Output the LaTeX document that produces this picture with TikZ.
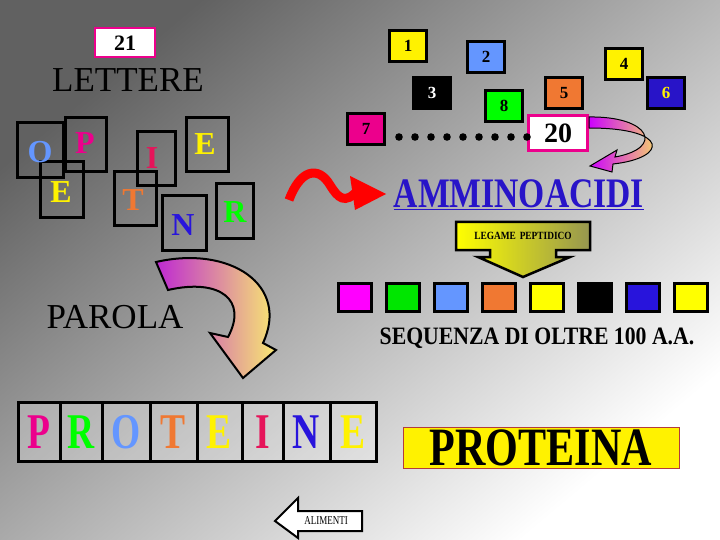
\documentclass[tikz,border=0pt]{standalone}
\usepackage{fontspec}
\setmainfont{Liberation Serif}
\newcommand{\nar}[2]{\scalebox{#1}[1]{#2}}
\begin{document}
\begin{tikzpicture}[x=1pt,y=-1pt,
  let/.style={font=\bfseries\fontsize{32}{32}\selectfont},
  nbox/.style={draw=black,line width=3pt,minimum width=37pt,minimum height=31pt,inner sep=0pt,font=\bfseries\fontsize{17}{17}\selectfont},
  sq/.style={draw=black,line width=3pt,minimum width=33pt,minimum height=28pt,inner sep=0pt},
  pbox/.style={draw=black,line width=3pt,minimum height=59pt,inner sep=0pt,font=\fontsize{50}{50}\selectfont\bfseries}]
\useasboundingbox (0,0) rectangle (720,540);
\shade[top color=black!62,bottom color=white,shading angle=40] (0,0) rectangle (720,540);
% letters
\draw[line width=3pt] (17,123) rectangle (63,178) (65,118) rectangle (106,172) (40,162) rectangle (83,218)
 (137,132) rectangle (175,186) (114,172) rectangle (156,226) (186,118) rectangle (228,172)
 (162,196) rectangle (206,250) (216,184) rectangle (253,238);
\node[let,text={rgb,255:red,100;green,150;blue,255}] (lo) at (40,152) {O};
\node[let,text=magenta] (lp) at (85,143) {P};
\node[let,text=yellow] (le) at (61,192) {E};
\node[let,text={rgb,255:red,230;green,20;blue,90}] (li) at (152,158) {I};
\node[let,text={rgb,255:red,240;green,120;blue,50}] (lt) at (133,200) {T};
\node[let,text=yellow] (le2) at (205,144) {E};
\node[let,text={rgb,255:red,40;green,20;blue,220}] (ln) at (183,225) {N};
\node[let,text=green] (lr) at (235,212) {R};
\node[draw=magenta,line width=2pt,fill=white,minimum width=60pt,minimum height=29pt,inner sep=0pt,font=\bfseries\fontsize{22}{22}\selectfont] (b21) at (125,43) {21};
\node[font=\fontsize{35}{35}\selectfont] (lettere) at (128,80) {LETTERE};
\node[font=\fontsize{35}{35}\selectfont] (parola) at (115,317) {PAROLA};
% numbers
\node[nbox,fill=yellow] (n1) at (408,46) {1};
\node[nbox,fill={rgb,255:red,100;green,150;blue,255}] (n2) at (486,57) {2};
\node[nbox,fill=black,text=white] (n3) at (432,93) {3};
\node[nbox,fill=green] (n8) at (504,106) {8};
\node[nbox,fill={rgb,255:red,240;green,120;blue,50}] (n5) at (564,93) {5};
\node[nbox,fill=yellow] (n4) at (624,64) {4};
\node[nbox,fill={rgb,255:red,40;green,20;blue,200},text=yellow] (n6) at (666,93) {6};
\node[nbox,fill=magenta] (n7) at (366,129) {7};
\node[draw=magenta,line width=2.5pt,fill=white,minimum width=59pt,minimum height=35pt,inner sep=0pt,font=\bfseries\fontsize{28}{28}\selectfont] (n20) at (558,133) {20};
\foreach \i in {0,...,8} \fill (399+\i*16,137) circle (3.8pt);
% small arrow from 20
\shade[left color=magenta!80!blue,right color=yellow!70,draw=black,line width=1pt]
 (589,117) .. controls (650,116) and (665,148) .. (615,157) -- (617,150) -- (590,166) -- (612,172) -- (613,164)
 .. controls (668,158) and (670,128) .. (589,128) -- cycle;
% red arrow
\draw[red,line width=9pt] (289,200) .. controls (300,170) and (318,165) .. (330,185) .. controls (338,198) and (345,205) .. (358,190);
\fill[red] (350,176) -- (386,194) -- (355,210) -- cycle;
\node[font=\bfseries\fontsize{42}{42}\selectfont,text={rgb,255:red,40;green,20;blue,200},inner sep=0pt] (aa) at (519,195) {\underline{\nar{0.8}{AMMINOACIDI}}};
% legame peptidico
\shade[left color=yellow,right color={rgb,255:red,150;green,150;blue,80},draw=black,line width=2.5pt]
 (456,222) -- (590,222) -- (590,250) -- (556,250) -- (556,257) -- (570,257) -- (523,277) -- (478,257) -- (490,257) -- (490,250) -- (456,250) -- cycle;
\node[font=\bfseries\fontsize{11}{11}\selectfont] (lg) at (523,236) {\nar{0.85}{LEGAME\, PEPTIDICO}};
% squares
\foreach \c [count=\i from 0] in {{rgb,255:red,255;green,0;blue,255},{rgb,255:red,0;green,230;blue,0},{rgb,255:red,100;green,150;blue,255},{rgb,255:red,240;green,120;blue,50},{rgb,255:red,255;green,255;blue,0},black,{rgb,255:red,40;green,20;blue,220},{rgb,255:red,255;green,255;blue,0}}
  \node[sq,fill=\c] (s\i) at (355+\i*48,297) {};
\node[font=\bfseries\fontsize{25}{25}\selectfont] (seq) at (537,338) {\nar{0.87}{SEQUENZA DI OLTRE 100 A.A.}};
% pink arrow from PAROLA
\shade[left color={rgb,255:red,190;green,40;blue,210},right color=yellow!60,draw=black,line width=2pt]
 (156,262) .. controls (230,245) and (290,285) .. (263,343) -- (276,350) -- (243,378) -- (210,333) -- (228,337)
 .. controls (248,300) and (220,278) .. (168,290) -- cycle;
% PROTEINE
\foreach \a/\b/\t/\c [count=\i] in {18/60/P/magenta,60/102/R/green,102/150/O/{rgb,255:red,100;green,150;blue,255},150/197/T/{rgb,255:red,240;green,120;blue,50},197/242/E/yellow,242/283/I/{rgb,255:red,230;green,20;blue,90},283/330/N/{rgb,255:red,40;green,20;blue,220},330/376/E/yellow}
  \node[pbox,minimum width=\b-\a,text=\c,fill=white,fill opacity=0.25,text opacity=1] (p\i) at ({(\a+\b)/2},432) {\nar{0.75}{\t}};
\node[draw={rgb,255:red,180;green,60;blue,60},line width=1pt,fill=yellow,minimum width=276pt,minimum height=41pt,inner sep=0pt,font=\bfseries\fontsize{54}{54}\selectfont] (prot) at (541,448) {\nar{0.78}{PROTEINA}};
% alimenti
\draw[line width=2pt,fill=white] (362,511) -- (298,511) -- (298,498) -- (275,521) -- (298,538) -- (298,531) -- (362,531) -- cycle;
\node[font=\fontsize{12}{12}\selectfont] (al) at (326,521) {\nar{0.75}{ALIMENTI}};
\end{tikzpicture}
\end{document}
